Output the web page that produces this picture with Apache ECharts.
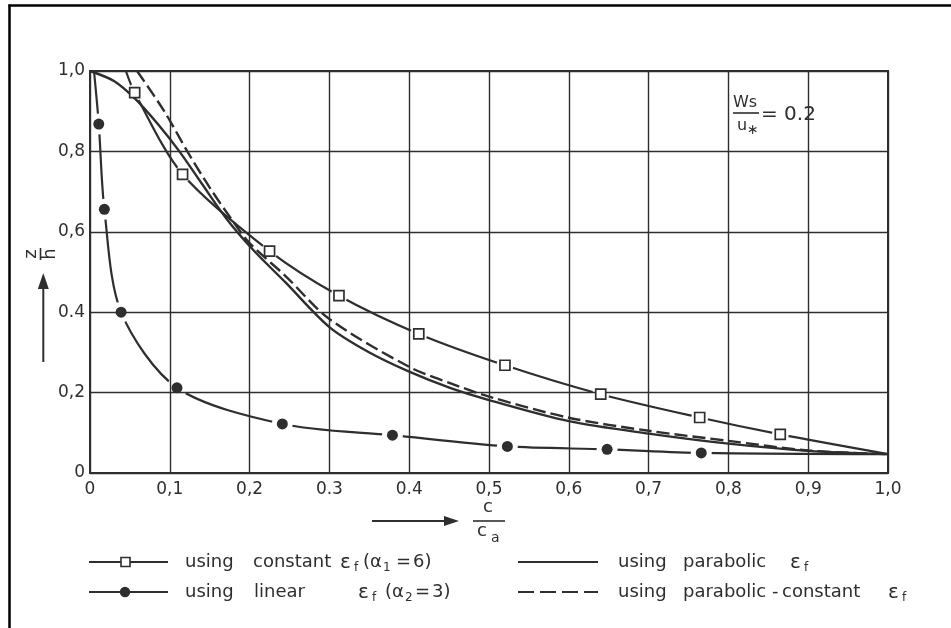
<!DOCTYPE html>
<html>
<head>
<meta charset="utf-8">
<script src="https://cdn.jsdelivr.net/npm/echarts@6/dist/echarts.min.js"></script>
<style>
  html, body { margin: 0; padding: 0; background: #fff; }
  #chart { width: 951px; height: 628px; }
</style>
</head>
<body>
<div id="chart"></div>
<script>
// Tick labels
const xTickLabels = ['0', '0,1', '0,2', '0.3', '0.4', '0,5', '0,6', '0,7', '0,8', '0,9', '1,0'];
const yTickLabels = ['0', '0,2', '0.4', '0,6', '0,8', '1,0'];

// Constant eddy diffusivity (alpha1 = 6): marked points and curve ends
const constX = [0.056, 0.116, 0.225, 0.312, 0.412, 0.520, 0.640, 0.764, 0.865];
const constY = [0.946, 0.743, 0.552, 0.441, 0.346, 0.268, 0.196, 0.138, 0.096];
const constStart = [0.045, 1.0];
const constEnd = [1.0, 0.047];

// Linear eddy diffusivity (alpha2 = 3): marked points and curve ends
const linX = [0.011, 0.018, 0.039, 0.109, 0.241, 0.379, 0.523, 0.648, 0.766];
const linY = [0.868, 0.656, 0.400, 0.212, 0.122, 0.094, 0.066, 0.059, 0.050];
const linStart = [0.005, 1.0];
const linEnd = [1.0, 0.047];

// Parabolic eddy diffusivity
const parX = [0.000, 0.030, 0.057, 0.085, 0.112, 0.140, 0.172, 0.204, 0.245, 0.300, 0.349, 0.400, 0.452, 0.500, 0.600, 0.700, 0.800, 0.900, 1.000];
const parY = [1.000, 0.975, 0.930, 0.868, 0.800, 0.720, 0.630, 0.556, 0.474, 0.363, 0.301, 0.252, 0.211, 0.1815, 0.129, 0.098, 0.073, 0.055, 0.047];

// Parabolic-constant eddy diffusivity
const pcX = [0.059, 0.093, 0.122, 0.150, 0.176, 0.200, 0.245, 0.300, 0.400, 0.452, 0.500, 0.600, 0.700, 0.800, 0.900, 1.000];
const pcY = [1.000, 0.900, 0.800, 0.710, 0.635, 0.572, 0.490, 0.383, 0.264, 0.223, 0.190, 0.1375, 0.105, 0.080, 0.056, 0.047];

const INK = '#2e2e2e';
const zip = (xs, ys) => xs.map((x, i) => [x, ys[i]]);

const constPath = [constStart].concat(zip(constX, constY), [constEnd]);
const linPath = [linStart].concat(zip(linX, linY), [linEnd]);

const FONT = 'DejaVu Sans';

function txt(text, x, y, size, extra) {
  return Object.assign({
    type: 'text', x: x, y: y, silent: true,
    style: {
      text: text, font: size + 'px "' + FONT + '"', fill: INK,
      textAlign: 'left', textVerticalAlign: 'middle', align: 'left', verticalAlign: 'middle'
    }
  }, extra || {});
}
function seg(x1, y1, x2, y2, w, dash) {
  return {
    type: 'line', silent: true,
    shape: { x1: x1, y1: y1, x2: x2, y2: y2 },
    style: { stroke: INK, lineWidth: w, lineDash: dash || null }
  };
}
function ctr(text, x, y, size) {
  return {
    type: 'text', x: x, y: y, silent: true,
    style: { text: text, font: size + 'px "' + FONT + '"', fill: INK, align: 'center', verticalAlign: 'middle', textAlign: 'center', textVerticalAlign: 'middle' }
  };
}

const row1 = 562, row2 = 592;

const graphics = [
  // page frame
  { type: 'line', silent: true, shape: { x1: 9.5, y1: 4.5, x2: 9.5, y2: 628 }, style: { stroke: '#000', lineWidth: 2.5 } },
  { type: 'line', silent: true, shape: { x1: 8.5, y1: 5.5, x2: 951, y2: 5.5 }, style: { stroke: '#000', lineWidth: 2.5 } },

  // vertical axis title (z over h, turned a quarter) with arrow
  {
    type: 'group', x: 40.5, y: 254, rotation: Math.PI / 2,
    children: [
      ctr('z', 0, -9, 18),
      { type: 'line', shape: { x1: -6, y1: 0, x2: 6, y2: 0 }, style: { stroke: INK, lineWidth: 1.6 } },
      ctr('h', 0, 10, 18)
    ]
  },
  seg(43.3, 362, 43.3, 286, 2),
  { type: 'polygon', silent: true, shape: { points: [[43.3, 273], [37.8, 289], [48.8, 289]] }, style: { fill: INK } },

  // horizontal axis title with arrow
  seg(372, 521, 447, 521, 2),
  { type: 'polygon', silent: true, shape: { points: [[459, 521], [444, 516], [444, 526]] }, style: { fill: INK } },
  txt('c', 483, 507, 18),
  seg(473, 521, 505, 521, 1.6),
  txt('c', 477, 531, 18),
  txt('a', 491, 538, 14),

  // settling parameter note
  txt('Ws', 733, 103, 16),
  seg(733, 113, 759, 113, 1.6),
  txt('u', 737, 126, 16),
  txt('\u2217', 747, 130, 14),
  txt('= 0.2', 761, 115, 20),

  // key, left column
  seg(89, row1, 168, row1, 2),
  { type: 'rect', silent: true, shape: { x: 121, y: row1 - 4.5, width: 9, height: 9 }, style: { fill: '#fff', stroke: INK, lineWidth: 1.6 } },
  txt('using', 185, row1, 18),
  txt('constant', 253, row1, 18),
  txt('\u03b5', 340, row1 + 1, 20),
  txt('f', 354, row1 + 6, 12),
  txt('(\u03b1', 363, row1, 18),
  txt('1', 383, row1 + 6, 12),
  txt('=', 396, row1, 18),
  txt('6)', 413, row1, 18),

  seg(89, row2, 168, row2, 2),
  { type: 'circle', silent: true, shape: { cx: 125, cy: row2, r: 5.2 }, style: { fill: INK } },
  txt('using', 185, row2, 18),
  txt('linear', 254, row2, 18),
  txt('\u03b5', 358, row2 + 1, 20),
  txt('f', 372, row2 + 6, 12),
  txt('(\u03b1', 385, row2, 18),
  txt('2', 405, row2 + 6, 12),
  txt('=', 415, row2, 18),
  txt('3)', 432, row2, 18),

  // key, right column
  seg(518, row1, 598, row1, 2),
  txt('using', 618, row1, 18),
  txt('parabolic', 683, row1, 18),
  txt('\u03b5', 790, row1 + 1, 20),
  txt('f', 804, row1 + 6, 12),

  seg(518, row2, 598, row2, 2, [16, 6]),
  txt('using', 618, row2, 18),
  txt('parabolic', 683, row2, 18),
  txt('-', 772, row2, 18),
  txt('constant', 782, row2, 18),
  txt('\u03b5', 888, row2 + 1, 20),
  txt('f', 902, row2 + 6, 12)
];

const chart = echarts.init(document.getElementById('chart'), null, { renderer: 'canvas' });

const axisCommon = {
  type: 'value', min: 0, max: 1, z: 5,
  axisLine: { show: true, lineStyle: { color: INK, width: 2 } },
  axisTick: { show: false },
  splitLine: { show: true, lineStyle: { color: INK, width: 1.4 } }
};

chart.setOption({
  animation: false,
  backgroundColor: '#fff',
  grid: {
    left: 90, right: 63, top: 71, bottom: 155,
    show: true, borderColor: INK, borderWidth: 2, backgroundColor: 'transparent'
  },
  xAxis: Object.assign({}, axisCommon, {
    interval: 0.1,
    axisLabel: {
      margin: 8, color: INK, fontFamily: FONT, fontSize: 17,
      formatter: v => xTickLabels[Math.round(v * 10)]
    }
  }),
  yAxis: Object.assign({}, axisCommon, {
    interval: 0.2,
    axisLabel: {
      margin: 5, color: INK, fontFamily: FONT, fontSize: 17,
      formatter: v => yTickLabels[Math.round(v * 5)]
    }
  }),
  series: [
    {
      name: 'using constant \u03b5f (\u03b11 = 6)', type: 'line', data: constPath,
      smooth: 0.3, showSymbol: false, z: 2, silent: true,
      lineStyle: { color: INK, width: 2.2 }
    },
    {
      type: 'scatter', data: zip(constX, constY), symbol: 'circle', symbolSize: 17, z: 3, silent: true,
      itemStyle: { color: '#fff', opacity: 1 }
    },
    {
      name: 'using linear \u03b5f (\u03b12 = 3)', type: 'line', data: linPath,
      smooth: 0.3, showSymbol: false, z: 2, silent: true,
      lineStyle: { color: INK, width: 2.2 }
    },
    {
      type: 'scatter', data: zip(linX, linY), symbol: 'circle', symbolSize: 21, z: 3, silent: true,
      itemStyle: { color: '#fff', opacity: 1 }
    },
    {
      name: 'using parabolic \u03b5f', type: 'line', data: zip(parX, parY),
      smooth: 0.3, showSymbol: false, z: 4, silent: true,
      lineStyle: { color: INK, width: 2.4 }
    },
    {
      name: 'using parabolic-constant \u03b5f', type: 'line', data: zip(pcX, pcY),
      smooth: 0.3, showSymbol: false, z: 4, silent: true,
      lineStyle: { color: INK, width: 2.4, type: [13, 5] }
    },
    {
      type: 'scatter', data: zip(constX, constY), symbol: 'rect', symbolSize: 10, z: 6, silent: true,
      itemStyle: { color: '#fff', borderColor: INK, borderWidth: 1.7, opacity: 1 }
    },
    {
      type: 'scatter', data: zip(linX, linY), symbol: 'circle', symbolSize: 11, z: 6, silent: true,
      itemStyle: { color: INK, opacity: 1 }
    }
  ],
  graphic: { elements: graphics }
});
</script>
</body>
</html>
